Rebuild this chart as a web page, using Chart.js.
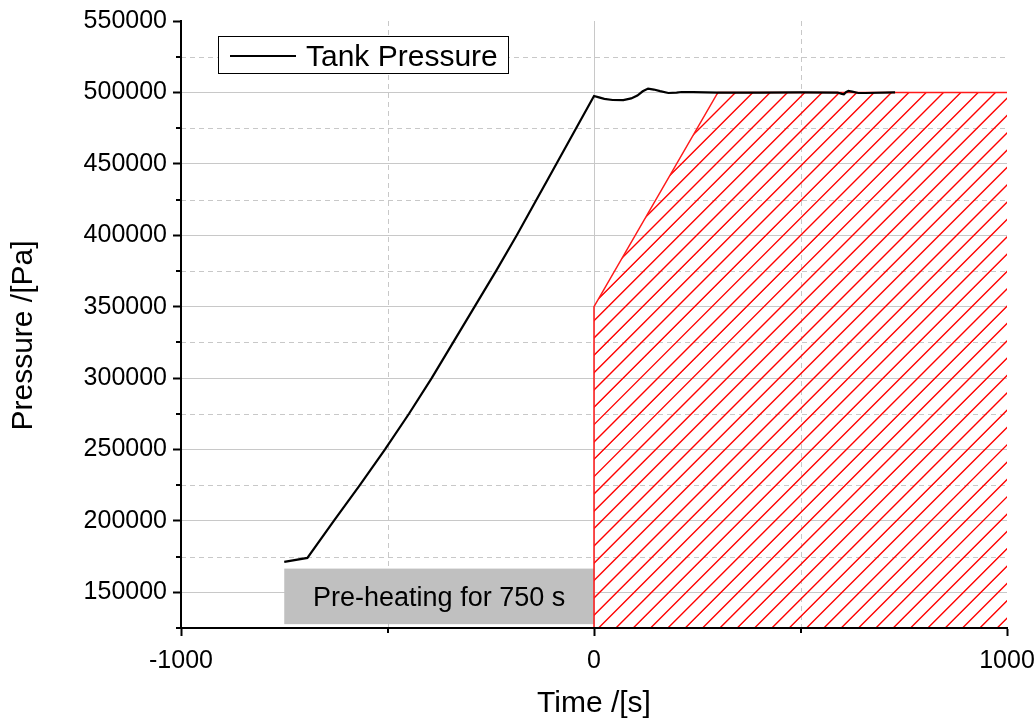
<!DOCTYPE html>
<html>
<head>
<meta charset="utf-8">
<title>Tank Pressure</title>
<script src="https://cdn.jsdelivr.net/npm/chart.js@4.4.1/dist/chart.umd.min.js"></script>
<style>
  html, body { margin: 0; padding: 0; background: #fff; }
  #wrap { width: 1036px; height: 722px; }
</style>
</head>
<body>
<div id="wrap"><canvas id="chart" width="1036" height="722"></canvas></div>
<script>
// ========== data ==========
// tank pressure trace (time in s, pressure in Pa)
const TIME = [-750, -694, -630, -567, -506, -448, -393, -341, -289, -237, -187, -139, -111, -55, 0,
  12, 25, 45, 71, 90, 105, 118, 131, 145, 160, 180, 200, 212, 240, 270, 300, 400, 500,
  590, 600, 605, 610, 616, 625, 640, 656, 729];
const PRESSURE = [171300, 174100, 200000, 225000, 250000, 275000, 300000, 325000, 350000, 375000, 400000, 425000, 439600, 468800, 497500,
  496500, 495500, 494700, 494600, 495800, 497800, 500800, 502700, 502000, 500900, 499600, 499800, 500300, 500200, 500000, 499800, 499900, 500000,
  499900, 499000, 498700, 500200, 501000, 500500, 499600, 499600, 500000];

// hatched operating envelope
const ENVELOPE_TIME = [0, 0, 300, 1000];
const ENVELOPE_PRESSURE = [125000, 350000, 500000, 500000];

// pre-heating band
const PREHEAT_SPAN = [-750, 0];
const PREHEAT_RANGE = [127700, 166600];
const PREHEAT_TEXT = "Pre-heating for 750 s";

// axes
const X_MIN = -1000, X_MAX = 1000;
const Y_MIN = 125000, Y_MAX = 550000;
const X_MAJOR = [-1000, 0, 1000];
const X_MINOR = [-500, 500];
const Y_MAJOR = [150000, 200000, 250000, 300000, 350000, 400000, 450000, 500000, 550000];
const Y_MINOR = [125000, 175000, 225000, 275000, 325000, 375000, 425000, 475000, 525000];
const X_TITLE = "Time /[s]";
const Y_TITLE = "Pressure /[Pa]";

// ========== style ==========
const FONT = "'Liberation Sans', Arial, sans-serif";
const GRID_COLOR = "#c8c8c8";
const NONE = "rgba(0,0,0,0)";
const HATCH_GAP = 17.33;

const canvas = document.getElementById("chart");
const toPoints = (xs, ys) => xs.map((x, i) => ({ x, y: ys[i] }));

// envelope outline (data space -> pixels), closed down to the x axis
function envelopePath(ctx, x, y, bottom) {
  ctx.beginPath();
  ENVELOPE_TIME.forEach((t, i) => {
    const px = x.getPixelForValue(t);
    const py = y.getPixelForValue(ENVELOPE_PRESSURE[i]);
    if (i) ctx.lineTo(px, py); else ctx.moveTo(px, py);
  });
  ctx.lineTo(x.getPixelForValue(ENVELOPE_TIME[ENVELOPE_TIME.length - 1]), bottom);
  ctx.lineTo(x.getPixelForValue(ENVELOPE_TIME[0]), bottom);
  ctx.closePath();
}

// "/" hatch lines across the chart area (caller clips)
function hatchLines(ctx, a) {
  const h = a.bottom - a.top;
  let k = a.left + 19;
  while (k > a.left - h) k -= HATCH_GAP;
  ctx.strokeStyle = "#ff0000";
  ctx.lineWidth = 1.4;
  ctx.beginPath();
  for (; k < a.right; k += HATCH_GAP) {
    ctx.moveTo(k, a.bottom);
    ctx.lineTo(k + h, a.top);
  }
  ctx.stroke();
}

// ========== extras: dashed minor grid, band, hatch, minor ticks, legend ==========
const extras = {
  id: "extras",
  beforeDatasetsDraw(chart) {
    const { ctx, chartArea: a, scales: { x, y } } = chart;
    ctx.save();
    ctx.strokeStyle = GRID_COLOR;
    ctx.lineWidth = 1;
    ctx.setLineDash([5, 4]);
    ctx.beginPath();
    X_MINOR.forEach((v) => {
      const p = Math.round(x.getPixelForValue(v)) + 0.5;
      ctx.moveTo(p, a.top);
      ctx.lineTo(p, a.bottom);
    });
    Y_MINOR.filter((v) => v > Y_MIN).forEach((v) => {
      const p = Math.round(y.getPixelForValue(v)) + 0.5;
      ctx.moveTo(a.left, p);
      ctx.lineTo(a.right, p);
    });
    ctx.stroke();
    ctx.setLineDash([]);

    // pre-heating band
    const x0 = x.getPixelForValue(PREHEAT_SPAN[0]);
    const x1 = x.getPixelForValue(PREHEAT_SPAN[1]);
    const y0 = y.getPixelForValue(PREHEAT_RANGE[1]);
    const y1 = y.getPixelForValue(PREHEAT_RANGE[0]);
    ctx.fillStyle = "#c0c0c0";
    ctx.fillRect(x0, y0, x1 - x0, y1 - y0);
    ctx.fillStyle = "#000";
    ctx.font = "27px " + FONT;
    ctx.textAlign = "center";
    ctx.textBaseline = "middle";
    ctx.fillText(PREHEAT_TEXT, (x0 + x1) / 2, (y0 + y1) / 2 + 2);

    // hatch inside the envelope
    ctx.save();
    envelopePath(ctx, x, y, a.bottom);
    ctx.clip();
    hatchLines(ctx, a);
    ctx.restore();
    ctx.restore();
  },
  afterDraw(chart) {
    const { ctx, chartArea: a, scales: { x, y } } = chart;
    ctx.save();
    // minor tick marks
    ctx.strokeStyle = "#000";
    ctx.lineWidth = 2;
    ctx.beginPath();
    X_MINOR.forEach((v) => {
      const p = Math.round(x.getPixelForValue(v));
      ctx.moveTo(p, a.bottom);
      ctx.lineTo(p, a.bottom + 5);
    });
    Y_MINOR.forEach((v) => {
      const p = Math.round(y.getPixelForValue(v));
      ctx.moveTo(a.left - 5, p);
      ctx.lineTo(a.left, p);
    });
    ctx.stroke();

    // y axis title
    ctx.fillStyle = "#000";
    ctx.font = "30px " + FONT;
    ctx.textAlign = "center";
    ctx.textBaseline = "middle";
    ctx.translate(24, (a.top + a.bottom) / 2 + 11);
    ctx.rotate(-Math.PI / 2);
    ctx.fillText(Y_TITLE, 0, 0);
    ctx.setTransform(1, 0, 0, 1, 0, 0);

    // legend
    const ds = chart.data.datasets[0];
    const lx = a.left + 37, ly = a.top + 15, lw = 290, lh = 37;
    ctx.fillStyle = "#fff";
    ctx.fillRect(lx, ly, lw, lh);
    ctx.strokeStyle = "#000";
    ctx.lineWidth = 1;
    ctx.strokeRect(lx + 0.5, ly + 0.5, lw, lh);
    ctx.lineWidth = 2;
    ctx.beginPath();
    ctx.moveTo(lx + 12, ly + 20);
    ctx.lineTo(lx + 78, ly + 20);
    ctx.stroke();
    ctx.fillStyle = "#000";
    ctx.font = "30px " + FONT;
    ctx.textAlign = "left";
    ctx.textBaseline = "alphabetic";
    ctx.fillText(ds.label, lx + 88, ly + 30);
    ctx.restore();
  },
};

// ========== chart ==========
new Chart(canvas, {
  type: "scatter",
  data: {
    datasets: [
      {
        label: "Tank Pressure",
        data: toPoints(TIME, PRESSURE),
        showLine: true,
        borderColor: "#000",
        borderWidth: 2.2,
        pointRadius: 0,
        tension: 0,
        order: 0,
      },
      {
        label: "Envelope",
        data: toPoints(ENVELOPE_TIME, ENVELOPE_PRESSURE),
        showLine: true,
        borderColor: "#ff1a1a",
        borderWidth: 1.5,
        fill: false,
        pointRadius: 0,
        order: 1,
      },
    ],
  },
  options: {
    responsive: false,
    animation: false,
    layout: { padding: { top: 21, right: 29, left: 0, bottom: 0 } },
    plugins: { legend: { display: false }, tooltip: { enabled: false } },
    scales: {
      x: {
        type: "linear",
        min: X_MIN,
        max: X_MAX,
        afterBuildTicks: (s) => { s.ticks = X_MAJOR.map((v) => ({ value: v })); },
        afterFit: (s) => {
          s.height = 94;
          s.paddingLeft = 0;
          s.paddingRight = 0;
        },
        ticks: {
          color: "#000",
          font: { family: FONT, size: 25 },
          padding: 10,
          maxRotation: 0,
          callback: (v) => String(v),
        },
        grid: {
          color: (c) => (c.tick && c.tick.value === 0 ? GRID_COLOR : NONE),
          tickColor: "#000",
          tickWidth: 2,
          tickLength: 8,
        },
        border: { color: "#000", width: 2, z: 1 },
        title: {
          display: true,
          text: X_TITLE,
          color: "#000",
          font: { family: FONT, size: 30 },
          padding: { top: 0, bottom: 0 },
        },
      },
      y: {
        type: "linear",
        min: Y_MIN,
        max: Y_MAX,
        afterBuildTicks: (s) => { s.ticks = Y_MAJOR.map((v) => ({ value: v })); },
        afterFit: (s) => {
          s.width = 181;
          s.paddingTop = 0;
          s.paddingBottom = 0;
        },
        ticks: {
          color: "#000",
          font: { family: FONT, size: 25 },
          padding: 6,
          callback: (v) => String(v),
        },
        grid: {
          color: (c) => (c.tick && c.tick.value < Y_MAX ? GRID_COLOR : NONE),
          tickColor: "#000",
          tickWidth: 2,
          tickLength: 8,
        },
        border: { color: "#000", width: 2, z: 1 },
      },
    },
  },
  plugins: [extras],
});
</script>
</body>
</html>
